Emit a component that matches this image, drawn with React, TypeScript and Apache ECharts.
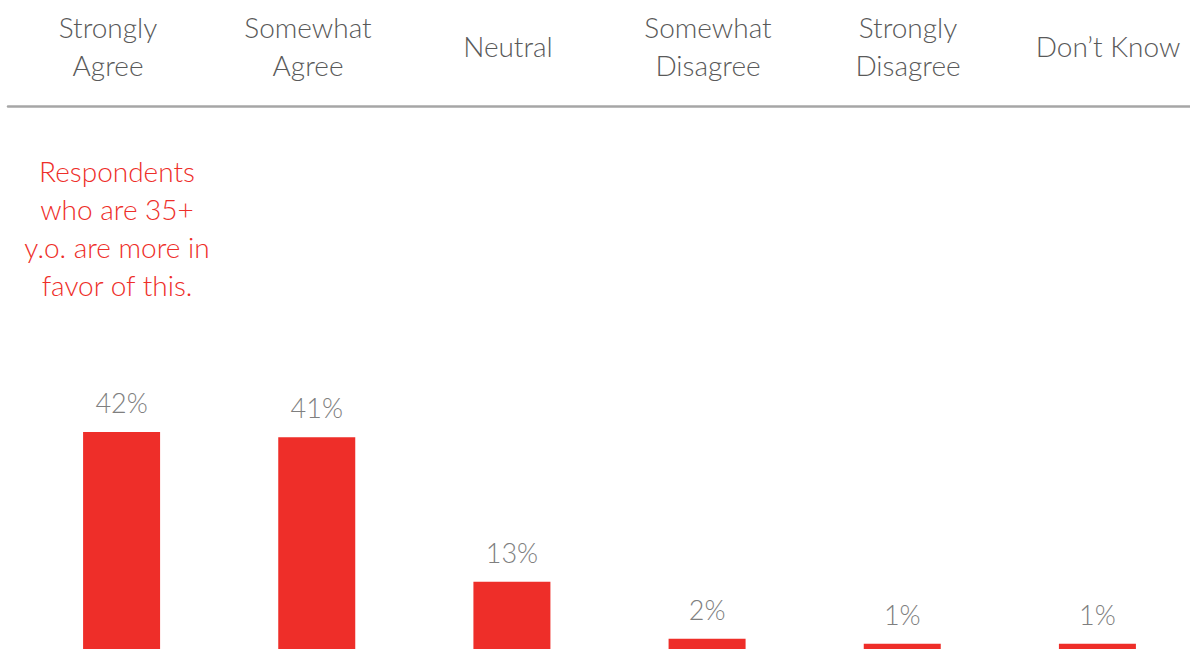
import React, { useEffect, useRef } from "react";
import * as echarts from "echarts";

const headerLabels = [
  "Strongly\nAgree",
  "Somewhat\nAgree",
  "Neutral",
  "Somewhat\nDisagree",
  "Strongly\nDisagree",
  "Don’t Know",
];
const categories = [
  "Strongly Agree",
  "Somewhat Agree",
  "Neutral",
  "Somewhat Disagree",
  "Strongly Disagree",
  "Don’t Know",
];
const values = [42, 41, 13, 2, 1, 1];
const annotation = "Respondents\nwho are 35+\ny.o. are more in\nfavor of this.";

const FONT = "Lato, 'Open Sans', sans-serif";
const RED = "#EE2E29";

export default function App() {
  const ref = useRef<HTMLDivElement>(null);
  useEffect(() => {
    document.body.style.margin = "0";
    if (!ref.current) return;
    const chart = echarts.init(ref.current, null, { renderer: "svg" });
    chart.setOption({
      animation: false,
      backgroundColor: "#ffffff",
      grid: [
        { left: 24, width: 1171, top: 339, bottom: 0, containLabel: false, outerBoundsMode: "none" },
        { left: 8, width: 1200, top: 105, height: 1, containLabel: false, outerBoundsMode: "none" },
      ],
      xAxis: [
        {
          type: "category",
          gridIndex: 0,
          data: categories,
          axisLine: { show: false },
          axisTick: { show: false },
          axisLabel: { show: false },
        },
        {
          type: "category",
          gridIndex: 1,
          position: "top",
          data: headerLabels,
          axisLine: { show: true, lineStyle: { color: "#A6A6A6", width: 2.5 } },
          axisTick: { show: false },
          axisLabel: {
            show: true,
            interval: 0,
            margin: 59,
            verticalAlign: "middle",
            color: "#595959",
            fontFamily: FONT,
            fontWeight: 300,
            fontSize: 28,
            lineHeight: 38,
          },
        },
      ],
      yAxis: [
        { type: "value", gridIndex: 0, min: 0, max: 60, show: false },
        { type: "value", gridIndex: 1, show: false },
      ],
      series: [
        {
          type: "bar",
          xAxisIndex: 0,
          yAxisIndex: 0,
          data: values,
          barWidth: 77,
          itemStyle: { color: RED },
          label: {
            show: true,
            position: "top",
            distance: 16,
            formatter: "{c}%",
            color: "#7F7F7F",
            fontFamily: FONT,
            fontWeight: 300,
            fontSize: 27,
          },
        },
      ],
      graphic: [
        {
          type: "text",
          x: 117,
          y: 228,
          style: {
            text: annotation,
            fill: RED,
            font: `300 28px ${FONT}`,
            lineHeight: 38,
            align: "center",
            verticalAlign: "middle",
          },
        },
      ],
    });
    return () => chart.dispose();
  }, []);
  return <div ref={ref} style={{ width: 1190, height: 649 }} />;
}
